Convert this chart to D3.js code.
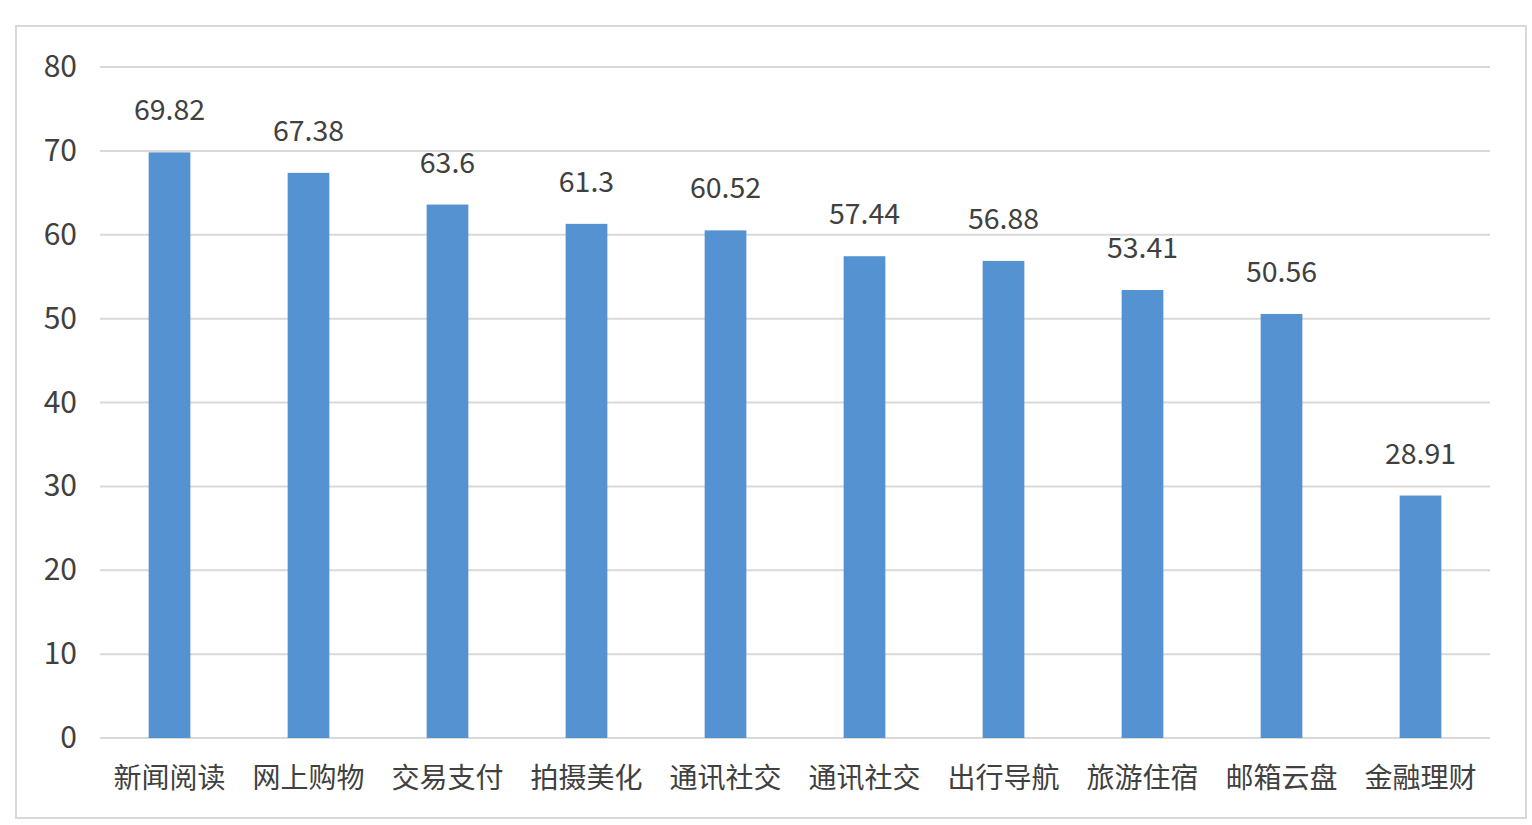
<!DOCTYPE html>
<html><head><meta charset="utf-8">
<script src="https://cdn.jsdelivr.net/npm/d3@7"></script>
<style>html,body{margin:0;padding:0;background:#fff;}svg{display:block;}</style>
</head><body>
<svg id="chart" width="1532" height="825"></svg>
<script>
const categories = ["新闻阅读","网上购物","交易支付","拍摄美化","通讯社交","通讯社交","出行导航","旅游住宿","邮箱云盘","金融理财"];
const values = [69.82, 67.38, 63.6, 61.3, 60.52, 57.44, 56.88, 53.41, 50.56, 28.91];
const valueLabels = ["69.82","67.38","63.6","61.3","60.52","57.44","56.88","53.41","50.56","28.91"];
const yTicks = [0,10,20,30,40,50,60,70,80];

(function(){
const svg = d3.select("#chart");
const font = "'Noto Sans CJK SC', 'Noto Sans', sans-serif";
const textColor = "#404040";

// outer frame
svg.append("rect").attr("x",16).attr("y",26).attr("width",1510).attr("height",792)
  .attr("fill","#fff").attr("stroke","#d9d9d9").attr("stroke-width",2);

const mLeft = 100, mRight = 1490, mTop = 67, mBottom = 738;
const x = d3.scaleBand().domain(d3.range(categories.length)).range([mLeft, mRight]).paddingInner(0.7).paddingOuter(0.35);
const y = d3.scaleLinear().domain([0, 80]).range([mBottom, mTop]);

// gridlines
svg.append("g").selectAll("line").data(yTicks).join("line")
  .attr("x1",mLeft).attr("x2",mRight)
  .attr("y1",d=>y(d)).attr("y2",d=>y(d))
  .attr("stroke","#d9d9d9").attr("stroke-width",2);

// y axis labels
const yAxis = d3.axisLeft(y).tickValues(yTicks).tickSize(0).tickPadding(0);
const yg = svg.append("g").attr("transform",`translate(${mLeft-23},0)`).call(yAxis);
yg.select(".domain").remove();
yg.selectAll("text").attr("font-family",font).attr("font-size",30).attr("fill",textColor);

// bars
svg.append("g").selectAll("rect").data(values).join("rect")
  .attr("x",(d,i)=>x(i)).attr("width",x.bandwidth())
  .attr("y",d=>y(d)).attr("height",d=>y(0)-y(d))
  .attr("fill","#5592d2");

// value labels
svg.append("g").selectAll("text").data(values).join("text")
  .attr("x",(d,i)=>x(i)+x.bandwidth()/2)
  .attr("y",d=>y(d)-32)
  .attr("text-anchor","middle")
  .attr("font-family",font).attr("font-size",28.5).attr("fill",textColor)
  .text((d,i)=>valueLabels[i]);

// x axis labels
const xAxis = d3.axisBottom(x).tickSize(0).tickPadding(0).tickFormat(i=>categories[i]);
const xg = svg.append("g").attr("transform",`translate(0,${mBottom+50})`).call(xAxis);
xg.select(".domain").remove();
xg.selectAll("text").attr("font-family",font).attr("font-size",28).attr("fill",textColor).attr("dy","0");
})();
</script>
</body></html>
